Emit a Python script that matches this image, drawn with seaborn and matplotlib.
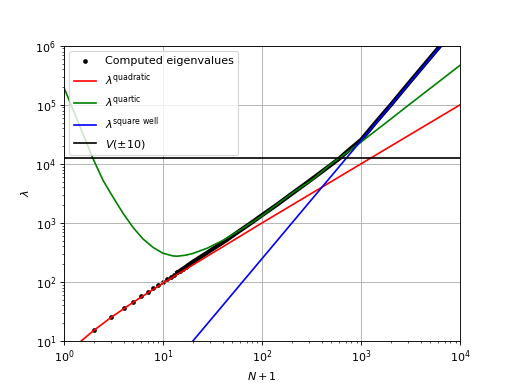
import matplotlib
matplotlib.use("Agg")
import matplotlib.pyplot as plt
import seaborn as sns
import pandas as pd

# ---- data ----
# computed eigenvalues: individually visible dots (small N)
eig_dots_n1 = [1, 2, 3, 4, 5, 6, 7, 8, 9, 10, 11, 12, 13, 14, 15, 16, 17, 18, 19, 20]
eig_dots_val = [5.0, 15.15, 25.4, 35.75, 46.2, 56.8, 67.5, 78.4, 89.1, 100.4, 111, 122,
                133, 144, 155, 167, 179, 192, 205, 218]
# computed eigenvalues: dense region (markers overlap into a band)
eig_band_n1 = [14, 16, 20, 27, 35, 43, 60, 78, 100, 140, 200, 295, 430, 520, 607, 750,
               1000, 1400, 2000, 3000, 4000, 5000, 6000, 7000]
eig_band_val = [144, 167, 218, 300, 400, 500, 740, 1000, 1348, 2000, 3110, 5000, 8000,
                10190, 12400, 17000, 25300, 49800, 100000, 227000, 403000, 630000,
                905000, 1230000]

quad_n1 = [1, 1.5, 2, 3, 5, 10, 100, 1000, 10000]
quad_val = [5, 10, 15, 25, 45, 95, 995, 9995, 99995]

quart_n1 = [1, 1.25, 1.5, 1.75, 2, 2.5, 3.2, 4, 5, 6.3, 8, 10, 12.6, 14, 17, 20, 28, 40,
            63, 100, 150, 200, 316, 500, 700, 1000, 2000, 3160, 5000, 10000]
quart_val = [1.97e5, 7.9e4, 3.74e4, 1.99e4, 1.15e4, 5.13e3, 2.57e3, 1.41e3, 832, 531,
             380, 305, 275, 272, 283, 302, 372, 501, 794, 1318, 2200, 3150, 5250, 10000,
             15000, 23400, 57500, 1.05e5, 1.9e5, 4.68e5]

sq_n1 = [1, 10, 100, 1000, 10000]
sq_val = [0.0247, 2.47, 247, 24700, 2.47e6]

v_n1 = [1, 10000]
v_val = [12500, 12500]

labels = ["Computed eigenvalues", r"$\lambda^{\mathrm{quadratic}}$",
          r"$\lambda^{\mathrm{quartic}}$", r"$\lambda^{\mathrm{square\ well}}$",
          r"$V(\pm10)$"]

fig, ax = plt.subplots(figsize=(6.39, 4.79), dpi=80)

dots = pd.DataFrame({"n": eig_dots_n1, "v": eig_dots_val})
band = pd.DataFrame({"n": eig_band_n1, "v": eig_band_val})

sns.lineplot(data=band, x="n", y="v", color="k", lw=3.8, estimator=None, sort=False,
             ax=ax, label="_nolegend_")
sns.scatterplot(data=dots, x="n", y="v", color="k", marker="o", s=18, linewidth=0,
                ax=ax, label=labels[0])

for xs, ys, c, lab in [(quad_n1, quad_val, "r", labels[1]),
                       (quart_n1, quart_val, "g", labels[2]),
                       (sq_n1, sq_val, "b", labels[3]),
                       (v_n1, v_val, "k", labels[4])]:
    sns.lineplot(x=xs, y=ys, color=c, lw=1.5, estimator=None, sort=False, ax=ax,
                 label=lab)

ax.set_xscale("log")
ax.set_yscale("log")
ax.set_xlim(1, 1e4)
ax.set_ylim(10, 1e6)
ax.grid(True, which="major", color="#b0b0b0", lw=0.8)
ax.set_xlabel(r"$N+1$")
ax.set_ylabel(r"$\lambda$")
ax.legend(loc="upper left")

fig.savefig("out.png", dpi=80)
